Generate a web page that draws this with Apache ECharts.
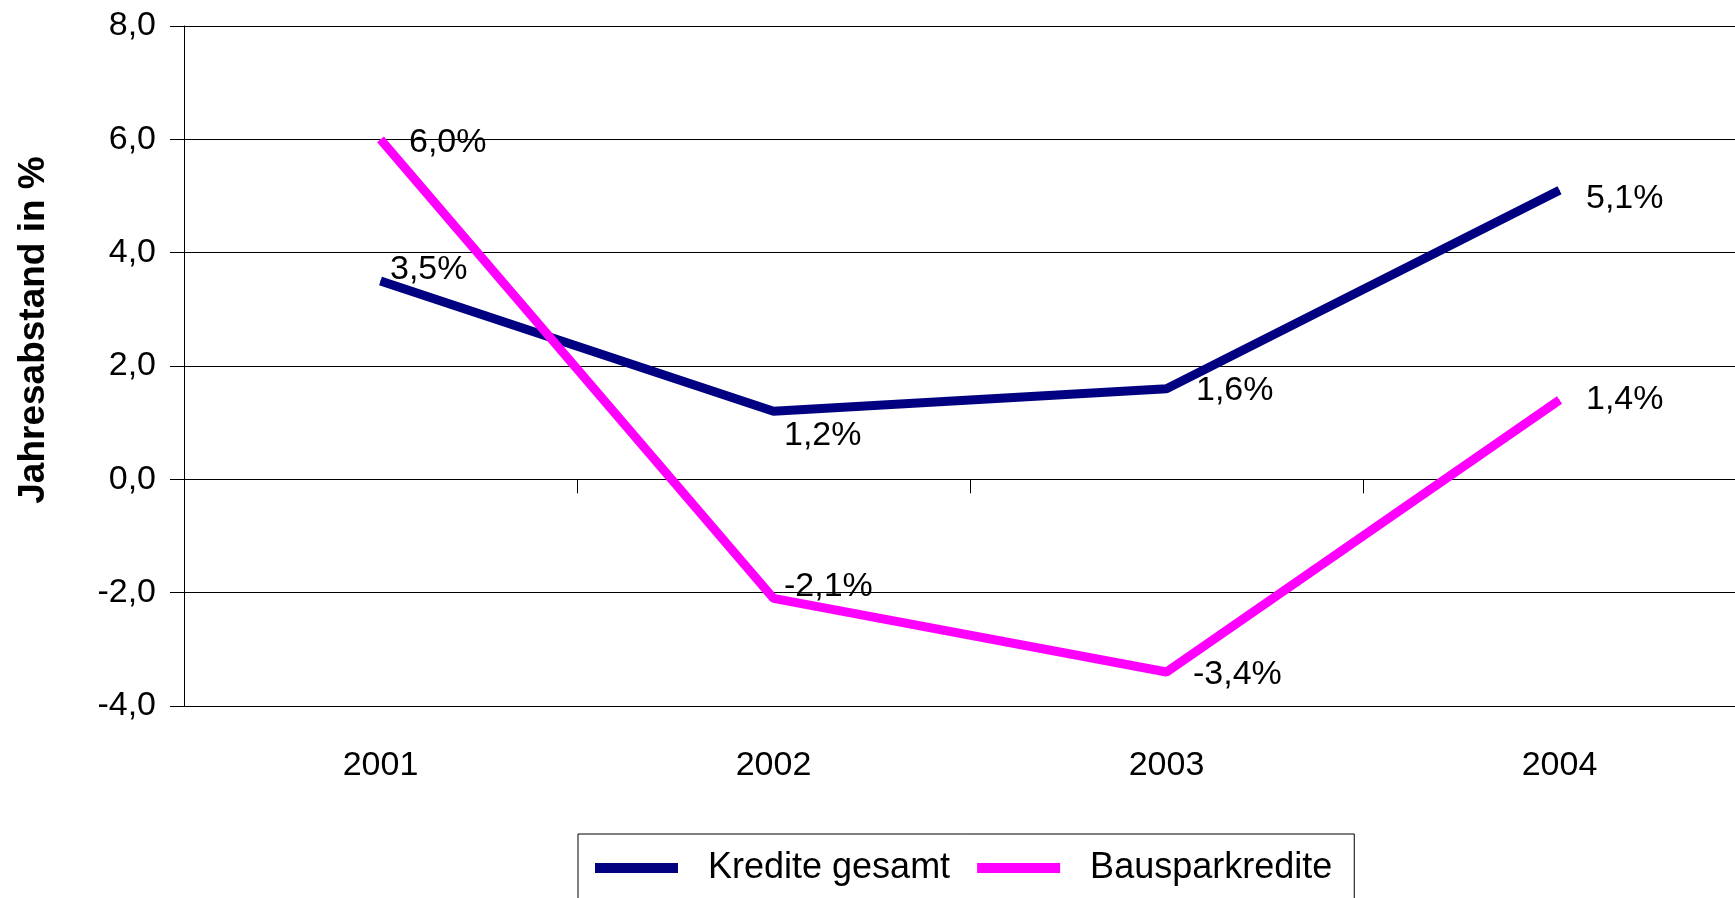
<!DOCTYPE html>
<html>
<head>
<meta charset="utf-8">
<title>Jahresabstand</title>
<script src="https://cdn.jsdelivr.net/npm/echarts@6/dist/echarts.min.js"></script>
<style>
    html, body { margin: 0; padding: 0; background: #fff; }
    #grafico { width: 1735px; height: 898px; }
</style>
</head>
<body>
<div id="grafico"></div>
<script>
(function () {
    "use strict";

    var anios = ['2001', '2002', '2003', '2004'];
    var kreditePesamt = [3.5, 1.2, 1.6, 5.1];
    var bausparkredite = [6.0, -2.1, -3.4, 1.4];
    var nombres = ['Kredite gesamt', 'Bausparkredite'];
    var tituloY = 'Jahresabstand in %';

    // desplazamiento de cada etiqueta respecto al punto (movidas a mano en el original)
    var offsetsKredite = [[9, -11], [10, 24], [29, 2], [26, 8]];
    var offsetsBauspar = [[28, 3], [10, -12], [26, 3], [26, 0]];

    var fuente = "'Liberation Sans', Arial, sans-serif";

    function coma(v) {
        return v.toFixed(1).replace('.', ',');
    }

    function armarDatos(valores, offsets) {
        return valores.map(function (v, i) {
            return { value: v, label: { offset: offsets[i] } };
        });
    }

    function serie(nombre, valores, offsets, color) {
        return {
            name: nombre,
            type: 'line',
            xAxisIndex: 0,
            data: armarDatos(valores, offsets),
            symbol: 'circle',
            symbolSize: 1,
            showSymbol: true,
            itemStyle: { color: color },
            lineStyle: { color: color, width: 9, cap: 'butt' },
            label: {
                show: true,
                position: 'right',
                distance: 0,
                color: '#000',
                fontFamily: fuente,
                fontSize: 34,
                formatter: function (p) { return coma(p.value) + '%'; }
            },
            emphasis: { disabled: true },
            animation: false
        };
    }

    var chart = echarts.init(document.getElementById('grafico'));
    chart.setOption({
        backgroundColor: '#fff',
        // el area del grafico sigue mas alla del borde derecho
        grid: {
            left: 184, top: 26, width: 1572, height: 680,
            containLabel: false,
            outerBoundsMode: 'none'
        },
        legend: {
            data: nombres,
            left: 578,
            top: 834,
            orient: 'horizontal',
            icon: 'rect',
            itemWidth: 83,
            itemHeight: 10,
            itemGap: 27,
            padding: [14, 22, 60, 17],
            borderColor: '#000',
            borderWidth: 1,
            textStyle: {
                fontFamily: fuente,
                fontSize: 36,
                color: '#000',
                lineHeight: 40,
                padding: [0, 0, 0, 25]
            }
        },
        graphic: [{
            type: 'text',
            x: 34,
            y: 330,
            rotation: Math.PI / 2,
            style: {
                text: tituloY,
                x: 0,
                y: 0,
                fill: '#000',
                font: 'bold 37px ' + fuente,
                align: 'center',
                verticalAlign: 'middle',
                textAlign: 'center',
                textVerticalAlign: 'middle'
            }
        }],
        xAxis: [{
            // eje en el cero con marcas entre categorias
            type: 'category',
            data: anios,
            position: 'bottom',
            boundaryGap: true,
            axisLine: { onZero: true, lineStyle: { color: '#000', width: 1 } },
            axisTick: { show: true, interval: 0, length: 14, lineStyle: { color: '#000' } },
            axisLabel: { show: false },
            splitLine: { show: false }
        }, {
            // solo las etiquetas de los anios, abajo
            type: 'category',
            data: anios,
            position: 'bottom',
            boundaryGap: true,
            axisLine: { show: false, onZero: false },
            axisTick: { show: false },
            axisLabel: {
                interval: 0,
                margin: 43,
                color: '#000',
                fontFamily: fuente,
                fontSize: 34
            },
            splitLine: { show: false }
        }],
        yAxis: {
            type: 'value',
            min: -4,
            max: 8,
            interval: 2,
            axisLine: { show: true, lineStyle: { color: '#000', width: 1 } },
            axisTick: { show: true, length: 14, lineStyle: { color: '#000' } },
            axisLabel: {
                margin: 28,
                color: '#000',
                fontFamily: fuente,
                fontSize: 34,
                formatter: function (v) { return coma(v); }
            },
            splitLine: { show: true, lineStyle: { color: '#000', width: 1 } }
        },
        series: [
            serie(nombres[0], kreditePesamt, offsetsKredite, '#000080'),
            serie(nombres[1], bausparkredite, offsetsBauspar, '#ff00ff')
        ]
    });
}());
</script>
</body>
</html>
